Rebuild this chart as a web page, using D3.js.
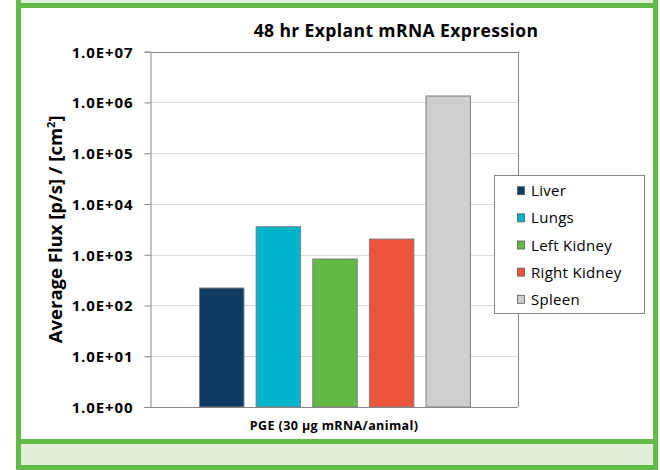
<!DOCTYPE html>
<html><head><meta charset="utf-8">
<script src="https://cdn.jsdelivr.net/npm/d3@7"></script>
<style>html,body{margin:0;padding:0;background:#fff;}svg{display:block;}</style>
</head><body>
<script>
const categories = ["Liver", "Lungs", "Left Kidney", "Right Kidney", "Spleen"];
const values = [221, 3560, 824, 2040, 1340000];
const colors = ["#0f3b62", "#00b4cc", "#62b946", "#ec553a", "#cfcdce"];
const tickValues = [1, 10, 100, 1000, 10000, 100000, 1000000, 10000000];
const tickLabels = ["1.0E+00","1.0E+01","1.0E+02","1.0E+03","1.0E+04","1.0E+05","1.0E+06","1.0E+07"];
const groupLabel = "PGE (30 µg mRNA/animal)";
const title = "48 hr Explant mRNA Expression";

const W = 660, H = 470;
const svg = d3.select("body").append("svg").attr("width", W).attr("height", H);
const font = "'Open Sans', 'Noto Sans', sans-serif";

// frame
svg.append("rect").attr("x",16).attr("y",0).attr("width",642).attr("height",470).attr("fill","#62bb46");
svg.append("rect").attr("x",21).attr("y",8).attr("width",632).attr("height",431).attr("fill","#fff");
svg.append("rect").attr("x",21).attr("y",0).attr("width",632).attr("height",3).attr("fill","#e2f0d9");
svg.append("rect").attr("x",21).attr("y",444).attr("width",632).attr("height",21).attr("fill","#e2f0d9");

const plot = {l:150.5, r:517.7, t:51.7, b:407};
const y = d3.scaleLog().domain([1, 1e7]).range([plot.b, plot.t]);
const x = d3.scaleBand().domain(categories).range([199, 470]).paddingInner(0.215).paddingOuter(0);

// gridlines
svg.append("g").selectAll("line").data(tickValues.slice(1, -1)).join("line")
  .attr("x1", plot.l).attr("x2", plot.r)
  .attr("y1", d => Math.round(y(d)) + 0.5).attr("y2", d => Math.round(y(d)) + 0.5)
  .attr("stroke", "#d9d9d9").attr("stroke-width", 1);

// plot border (top/right)
svg.append("path")
  .attr("d", `M${plot.l},${Math.round(plot.t)+0.5}H${Math.round(plot.r)+0.5}V${plot.b}`)
  .attr("fill","none").attr("stroke","#868686").attr("stroke-width",1);

// bars
svg.append("g").selectAll("rect").data(categories).join("rect")
  .attr("x", d => x(d) + 0.5)
  .attr("y", (d,i) => y(values[i]))
  .attr("width", x.bandwidth())
  .attr("height", (d,i) => plot.b - y(values[i]))
  .attr("fill", (d,i) => colors[i])
  .attr("stroke", "#7f7f7f").attr("stroke-width", 1);

// y axis
const yAxis = d3.axisLeft(y).tickValues(tickValues)
  .tickFormat((d,i) => tickLabels[i]).tickSize(6).tickPadding(11);
const ga = svg.append("g").attr("transform", `translate(${plot.l},0)`).call(yAxis);
ga.select(".domain").attr("stroke","#868686");
ga.selectAll(".tick line").attr("stroke","#868686");
ga.selectAll(".tick text").attr("font-family", font).attr("font-size", 15)
  .attr("letter-spacing", 0.9).attr("dy", "0.36em")
  .attr("font-weight", "bold").attr("fill", "#000");

// x axis line
svg.append("line").attr("x1", plot.l - 6).attr("x2", plot.r)
  .attr("y1", Math.round(plot.b)+0.5).attr("y2", Math.round(plot.b)+0.5)
  .attr("stroke", "#868686");

// x label
svg.append("text").attr("x", (plot.l+plot.r)/2).attr("y", 430)
  .attr("text-anchor","middle").attr("font-family", font).attr("font-size", 12.5)
  .attr("letter-spacing", 0.4)
  .attr("font-weight","bold").text(groupLabel);

// title
svg.append("text").attr("x", 396).attr("y", 37)
  .attr("text-anchor","middle").attr("font-family", font).attr("font-size", 17.5)
  .attr("letter-spacing", 0.4)
  .attr("font-weight","bold").text(title);

// y title
const yt = svg.append("text").attr("transform", `translate(62,${(plot.t+plot.b)/2}) rotate(-90)`)
  .attr("text-anchor","middle").attr("font-family", font).attr("font-size", 18.5)
  .attr("font-weight","bold");
yt.append("tspan").text("Average Flux [p/s] / [cm");
yt.append("tspan").attr("font-size", 11).attr("dy", -7).text("2");
yt.append("tspan").attr("dy", 7).text("]");

// legend
const lg = svg.append("g");
lg.append("rect").attr("x", 494.5).attr("y", 175.5).attr("width", 150).attr("height", 138)
  .attr("fill", "#fff").attr("stroke", "#868686");
const items = lg.selectAll("g").data(categories).join("g")
  .attr("transform", (d,i) => `translate(517,${190.7 + i*27.15})`);
items.append("rect").attr("x", 0.5).attr("y", -4).attr("width", 7).attr("height", 8)
  .attr("fill", (d,i) => colors[i]).attr("stroke", "#595959").attr("stroke-width", 0.8);
items.append("text").attr("x", 14).attr("y", 5.5).attr("font-family", font)
  .attr("font-size", 15).attr("letter-spacing", 0.3).attr("fill", "#000").text(d => d);
</script>
</body></html>
